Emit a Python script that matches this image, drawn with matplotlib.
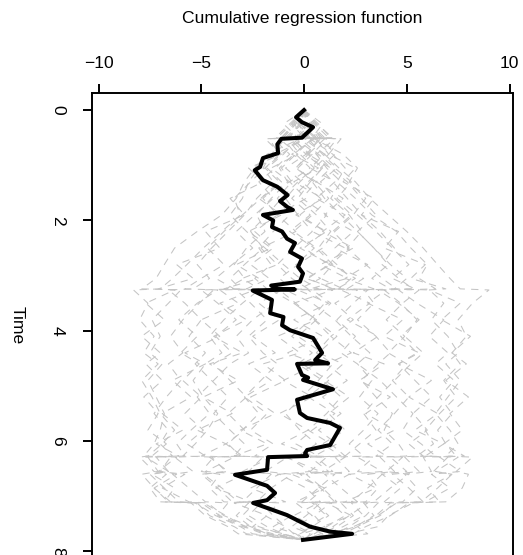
import matplotlib
matplotlib.use("Agg")
import matplotlib.pyplot as plt

plt.rcParams['font.family'] = ['Liberation Sans', 'DejaVu Sans']

# time grid shared by the resampled processes (jump times)
sim_time = [0, 0.25, 0.5, 0.52, 0.8, 1.05, 1.3, 1.6, 1.9, 2.2, 2.5, 2.8, 3.05, 3.24, 3.26,
            3.5, 3.8, 4.1, 4.4, 4.6, 4.9, 5.2, 5.5, 5.8, 6.05, 6.27, 6.29, 6.55, 6.6, 6.85,
            7.1, 7.12, 7.35, 7.55, 7.68, 7.79]

sim1 = [0, 0.5, 1.2, 0.3, 1.4, 2.0, 1.6, 2.5, 3.3, 4.5, 5.2, 6.0, 5.6, 6.4, 4.6, 5.5, 6.8, 6.1,
        7.0, 6.4, 7.3, 6.6, 7.2, 6.5, 6.9, 7.4, 5.8, 6.2, 4.9, 5.5, 4.8, 3.6, 3.0, 2.2, 1.5, 0]
sim2 = [0, -0.6, -1.3, -0.2, -1.8, -2.4, -2.9, -3.3, -4.0, -5.2, -6.3, -6.8, -7.2, -7.9, -6.0,
        -6.6, -7.4, -7.0, -7.5, -6.9, -7.6, -7.2, -6.8, -7.0, -7.3, -7.8, -6.5, -7.0, -6.2,
        -7.3, -6.6, -5.2, -4.6, -3.4, -2.8, 0]
sim3 = [0, 0.3, 0.8, -0.4, 0.6, 1.1, 1.8, 1.3, 2.2, 2.8, 2.1, 3.0, 3.8, 4.5, 2.9, 3.4, 2.6, 3.5,
        4.2, 3.6, 2.8, 3.5, 4.3, 3.9, 4.6, 5.0, 3.7, 4.4, 3.1, 3.6, 3.0, 1.8, 2.4, 1.6, 0.8, 0]
sim4 = [0, -0.2, -0.7, 0.4, -0.5, -1.2, -0.8, -1.6, -2.3, -1.9, -2.8, -3.4, -2.9, -3.8, -2.2,
        -3.0, -3.9, -4.6, -4.0, -4.8, -5.4, -4.9, -4.2, -4.7, -5.3, -5.9, -4.4, -5.0, -4.1,
        -4.6, -3.9, -2.7, -3.3, -2.6, -1.9, 0]
sim5 = [0, 0.6, 1.4, 0.5, 1.9, 2.6, 2.2, 3.0, 2.4, 1.5, 0.9, -0.3, -1.2, -0.6, -2.1, -1.4, -2.5,
        -3.3, -2.7, -3.6, -4.4, -5.2, -4.6, -5.5, -6.2, -5.8, -7.2, -6.6, -7.5, -6.8, -6.1,
        -4.9, -3.8, -2.9, -2.0, 0]
sim6 = [0, -0.5, -1.1, 0.1, -1.4, -2.2, -2.7, -3.0, -3.6, -2.8, -1.9, -1.0, -0.2, 0.7, -0.9,
        0.4, 1.5, 2.3, 3.2, 2.6, 3.7, 4.5, 5.3, 4.8, 5.7, 6.4, 4.9, 5.6, 4.3, 5.1, 5.8, 4.4,
        3.7, 2.6, 1.9, 0]
sim7 = [0, -0.3, 0.2, -0.6, 0.3, -0.4, 0.5, 1.2, 0.4, -0.5, 0.6, 1.4, 0.8, 1.9, 0.2, 1.0, 0.3,
        -0.6, 0.4, -0.3, 0.9, 1.8, 1.1, 0.2, 1.3, 2.0, 0.6, 1.4, 0.1, 0.9, 1.6, 0.5, 1.2, 0.4,
        -0.3, 0]
sim8 = [0, 0.2, 0.9, 1.6, 1.0, 1.7, 2.5, 3.2, 4.1, 5.0, 5.8, 6.5, 7.1, 7.6, 9.0, 8.2, 7.5, 7.9,
        7.2, 7.6, 6.8, 7.4, 6.6, 5.9, 6.3, 5.5, 7.0, 6.3, 7.2, 6.5, 5.7, 4.2, 3.5, 2.6, 3.1, 0]
sim9 = [0, -0.4, -1.0, -1.7, -1.2, -1.9, -2.6, -3.4, -3.1, -4.0, -4.9, -5.7, -6.4, -7.0, -8.3,
        -7.6, -8.0, -7.3, -7.8, -7.1, -7.9, -7.4, -7.0, -6.3, -6.9, -7.6, -8.0, -7.3, -6.7,
        -7.5, -7.0, -5.5, -4.8, -3.7, -3.2, 0]
sim10 = [0, 0.4, 0.1, 0.9, 1.5, 0.8, 1.4, 2.1, 2.8, 3.7, 4.4, 3.8, 4.6, 5.3, 3.9, 4.7, 5.5, 4.9,
         5.8, 5.2, 4.4, 3.6, 2.9, 3.5, 2.7, 2.0, 3.4, 2.6, 3.8, 3.1, 2.3, 3.1, 2.2, 1.4, 2.0, 0]
sim11 = [0, -0.7, -1.4, -0.9, -1.6, -2.0, -1.5, -2.3, -2.9, -3.7, -4.5, -5.2, -4.6, -5.4, -6.6,
         -5.8, -5.0, -5.6, -4.8, -5.3, -4.5, -3.7, -4.4, -3.6, -2.9, -3.4, -2.0, -2.7, -1.6,
         -2.3, -3.0, -2.1, -1.5, -0.9, -1.4, 0]
sim12 = [0, 0.1, -0.4, 0.7, 0.2, 0.9, 0.3, -0.3, 0.6, 1.3, 0.7, 1.6, 2.3, 1.7, 3.1, 2.4, 1.6,
         2.5, 1.8, 2.6, 3.3, 2.7, 3.6, 2.9, 2.2, 2.9, 1.5, 2.2, 1.0, 1.8, 2.6, 1.3, 2.0, 1.1,
         0.5, 0]
sim13 = [0, 0.2, -0.3, -1.0, -0.4, -1.1, -0.6, -1.3, -0.7, -1.5, -2.2, -1.6, -2.4, -1.8, -3.3,
         -2.6, -1.8, -2.7, -2.0, -1.3, -2.1, -2.9, -2.2, -3.0, -3.7, -3.1, -4.5, -3.8, -5.0,
         -4.2, -3.5, -2.4, -3.0, -2.2, -1.1, 0]
sim14 = [0, -0.2, 0.5, 1.1, 0.4, -0.3, 0.4, 1.0, 1.8, 2.6, 3.4, 4.2, 5.0, 4.4, 6.1, 6.8, 6.2,
         7.0, 7.5, 6.9, 7.6, 7.0, 6.4, 7.1, 7.5, 6.9, 8.2, 7.4, 8.0, 7.7, 6.9, 5.1, 4.2, 3.0,
         2.4, 0]
sim15 = [0, 0.4, -0.2, -0.8, -0.2, 0.5, -0.3, -1.1, -1.8, -2.6, -2.0, -2.9, -3.6, -3.1, -4.4,
         -5.1, -5.9, -6.5, -5.9, -6.6, -6.0, -6.7, -7.3, -6.6, -7.0, -6.4, -7.6, -7.1, -7.9,
         -7.3, -6.5, -5.3, -4.3, -3.1, -2.5, 0]
sim16 = [0, 0.7, 1.3, 0.6, 1.2, 0.5, -0.2, -0.9, -0.3, 0.4, -0.5, -1.3, -0.6, 0.2, -1.2, -0.4,
         0.5, 1.3, 0.6, 1.4, 0.7, -0.1, -0.9, -0.2, 0.6, -0.3, 1.1, 0.3, 1.5, 0.7, -0.1, 0.8,
         0.1, -0.6, 0.3, 0]
sim17 = [0, 0.6, 0.1, 1.0, 0.2, 1.3, 0.6, 1.9, 1.0, 2.4, 1.5, 3.1, 2.0, 3.4, 1.8, 3.2, 2.1, 3.6,
         2.4, 3.9, 2.7, 4.2, 3.0, 4.4, 3.1, 4.0, 2.6, 3.8, 2.2, 3.5, 2.0, 1.1, 2.3, 0.9, 1.6, 0]
sim18 = [0, -0.5, 0.1, -1.2, -0.3, -1.6, -0.7, -2.2, -1.1, -2.7, -1.6, -3.3, -2.2, -3.9, -2.4,
         -4.1, -2.8, -4.4, -3.0, -4.6, -3.2, -4.9, -3.5, -5.2, -3.8, -5.0, -3.4, -4.8, -2.9,
         -4.3, -2.6, -3.4, -1.8, -2.5, -1.0, 0]
sim19 = [0, 0.9, 0.4, 1.8, 1.2, 2.5, 1.9, 3.4, 2.8, 4.6, 3.9, 5.9, 5.2, 6.9, 6.1, 7.6, 6.7, 8.1,
         7.2, 7.9, 6.9, 8.0, 7.1, 7.7, 6.8, 7.8, 6.6, 7.6, 6.2, 7.1, 5.9, 5.3, 4.1, 3.6, 2.1, 0]
sim20 = [0, -1.0, -0.3, -1.9, -1.1, -2.7, -2.0, -3.6, -2.9, -4.8, -4.1, -6.2, -5.4, -7.1, -6.3,
         -7.7, -6.8, -7.9, -7.0, -7.7, -6.9, -7.8, -7.1, -7.6, -6.7, -7.4, -6.2, -7.1, -5.8,
         -6.9, -5.6, -4.7, -3.9, -2.6, -1.8, 0]
sim21 = [0, 0.4, -0.4, 0.5, -0.6, 0.7, -0.5, 0.9, -0.4, 1.1, -0.2, 1.3, 0.1, 1.5, -0.3, 1.2,
         -0.5, 0.9, -0.8, 0.6, -1.0, 0.4, -1.2, 0.2, -1.1, 0.5, -0.9, 0.8, -0.6, 1.0, -0.4, 0.7,
         -0.5, 0.5, -0.2, 0]
sim22 = [0, -0.3, 0.3, -0.5, 0.2, -0.4, 0.6, -0.1, 1.1, 0.4, 2.0, 1.2, 2.9, 2.1, 4.0, 3.1, 4.8,
         3.9, 5.6, 4.6, 6.2, 5.1, 6.5, 5.4, 6.8, 5.9, 7.5, 6.4, 7.2, 6.0, 6.6, 4.5, 3.6, 2.4,
         1.2, 0]
sim23 = [0, 0.3, -0.2, 0.4, -0.4, 0.3, -0.7, 0.1, -1.3, -0.4, -2.1, -1.3, -3.0, -2.2, -4.1,
         -3.2, -5.0, -4.1, -5.8, -4.8, -6.4, -5.5, -6.9, -5.9, -7.2, -6.1, -7.7, -6.6, -7.4,
         -6.3, -6.8, -5.0, -4.1, -2.8, -1.5, 0]
sim24 = [0, -0.2, 0.6, 0.0, 1.0, 0.3, 1.5, 0.6, 2.0, 0.9, 2.4, 0.8, 2.1, 0.3, 1.4, -0.5, 0.6,
         -1.3, -0.2, -2.0, -0.9, -2.6, -1.4, -3.1, -1.8, -3.4, -1.6, -3.0, -1.2, -2.6, -0.9,
         -2.2, -0.6, -1.5, -0.4, 0]
sim25 = [0, 0.3, 1.0, 0.2, 0.9, 1.6, 0.8, 1.5, 2.3, 1.4, 2.2, 1.3, 2.5, 1.6, 0.4, 1.3, 0.5, 1.6,
         0.7, 1.9, 1.0, 2.2, 1.2, 2.0, 0.9, 1.8, 0.3, 1.2, -0.2, 0.8, 1.5, 0.4, 1.1, 0.2, 0.9, 0]
sim26 = [0, -0.4, -1.1, -0.3, -1.0, -1.8, -1.1, -2.0, -1.3, -2.4, -1.5, -2.6, -1.7, -2.8, -1.1,
         -2.2, -1.2, -2.5, -1.4, -2.7, -1.6, -2.9, -1.8, -2.6, -1.5, -2.4, -0.8, -1.9, -0.6,
         -1.6, -2.3, -1.2, -1.9, -0.9, -0.5, 0]
sim27 = [0, 0.2, 0.7, 1.5, 0.6, 1.3, 2.1, 2.8, 3.5, 2.6, 3.4, 4.1, 3.3, 4.2, 5.6, 4.8, 4.0, 4.9,
         4.1, 5.0, 4.3, 5.1, 4.4, 3.6, 4.3, 3.5, 4.8, 4.0, 5.1, 4.2, 3.4, 2.3, 2.9, 1.9, 1.1, 0]
sim28 = [0, -0.1, -0.8, -1.5, -0.7, -1.4, -2.2, -1.5, -2.4, -3.3, -2.5, -3.5, -4.3, -3.4, -5.0,
         -4.2, -3.3, -4.3, -3.5, -4.4, -3.6, -2.8, -3.7, -2.9, -3.8, -3.0, -4.6, -3.7, -4.9,
         -4.0, -3.2, -2.1, -2.7, -1.8, -1.0, 0]
sim29 = [0, -0.6, 0.0, 0.8, 0.1, 0.9, 0.2, -0.6, 0.3, -0.7, 0.5, -0.4, 0.8, -0.2, -1.6, -0.5,
         0.6, -0.3, 0.9, -0.1, 1.2, 0.2, 1.5, 0.4, -0.4, 0.7, -0.8, 0.3, -1.2, 0.1, 0.8, -0.4,
         0.4, -0.3, 0.4, 0]
sim30 = [0, 0.5, 0.0, -0.7, 0.1, -0.9, -0.1, 0.8, -0.2, 1.0, 0.0, 1.2, 0.2, 1.4, 2.6, 1.5, 2.4,
         1.3, 2.3, 1.1, 2.1, 0.9, 1.8, 0.7, 1.6, 0.5, 2.0, 0.9, 2.2, 1.0, 0.2, 1.3, 0.5, 1.0,
         -0.1, 0]
sim31 = [0, 0.1, 0.6, -0.2, 0.7, 1.5, 2.3, 1.6, 2.6, 3.5, 4.3, 5.1, 4.3, 5.4, 3.6, 4.6, 5.6, 4.7,
         5.5, 4.6, 5.4, 6.2, 5.3, 6.0, 5.1, 5.8, 4.2, 5.0, 3.8, 4.7, 3.9, 2.9, 3.4, 2.5, 1.4, 0]
sim32 = [0, -0.2, -0.9, -0.1, -1.1, -1.9, -1.2, -2.1, -3.0, -3.9, -4.7, -3.9, -5.0, -5.8, -4.2,
         -5.2, -6.1, -5.2, -6.0, -5.1, -5.9, -5.0, -5.8, -4.9, -5.7, -4.8, -6.3, -5.4, -6.4,
         -5.6, -4.8, -3.7, -4.2, -3.0, -1.7, 0]
sims = [sim1, sim2, sim3, sim4, sim5, sim6, sim7, sim8, sim9, sim10, sim11, sim12,
        sim13, sim14, sim15, sim16, sim17, sim18, sim19, sim20, sim21, sim22, sim23, sim24,
        sim25, sim26, sim27, sim28, sim29, sim30, sim31, sim32]

# observed cumulative process
obs_time = [0, 0.13, 0.22, 0.31, 0.5, 0.52, 0.62, 0.78, 0.87, 1.03, 1.09, 1.27, 1.39, 1.54,
            1.65, 1.76, 1.81, 1.9, 2.0, 2.12, 2.2, 2.33, 2.41, 2.57, 2.69, 2.84, 2.96, 3.11,
            3.18, 3.24, 3.25, 3.27, 3.36, 3.44, 3.68, 3.75, 3.9, 3.99, 4.13, 4.4, 4.53, 4.59,
            4.6, 4.8, 4.85, 4.89, 5.06, 5.25, 5.49, 5.58, 5.67, 5.76, 5.98, 6.07, 6.16, 6.22,
            6.27, 6.29, 6.52, 6.61, 6.81, 6.94, 7.07, 7.12, 7.34, 7.55, 7.64, 7.68, 7.79]
obs_value = [0, -0.39, -0.1, 0.44, -0.1, -1.1, -1.3, -1.26, -2.0, -2.14, -2.4, -2.0, -1.3, -0.8,
             -1.17, -0.8, -0.54, -2.0, -1.5, -1.56, -1.07, -0.83, -0.44, -0.68, -0.1, -0.29,
             -0.05, -0.2, -1.6, -1.3, -0.45, -2.5, -2.0, -1.56, -1.65, -1.0, -1.07, -0.68, 0.44,
             0.88, 0.54, 1.17, -0.34, -0.1, 0.2, -0.05, 1.41, -0.34, -0.2, 0.15, 1.27, 1.75,
             1.41, 1.27, 0.15, 0.05, 0.15, -1.75, -1.8, -3.36, -1.8, -1.41, -1.8, -2.48, -0.83,
             0.29, 1.27, 2.34, -0.05]

fig = plt.figure(figsize=(5.23, 5.55), dpi=100)
ax = fig.add_axes([92 / 523, 1 - 557 / 555, 421 / 523, 464 / 555])

for s in sims:
    ax.plot(s, sim_time, color='#C4C4C4', lw=0.75, dashes=(7, 6))
ax.plot(obs_value, obs_time, color='black', lw=2.9, solid_joinstyle='round')

ax.set_xlim(-10.32, 10.17)
ax.set_ylim(8.1, -0.31)

ax.xaxis.tick_top()
ax.xaxis.set_label_position('top')
ax.set_xticks([-10, -5, 0, 5, 10])
ax.set_yticks([0, 2, 4, 6, 8])
ax.tick_params(axis='both', length=6.5, width=1.4, labelsize=12.6)
ax.tick_params(axis='x', pad=9)
ax.tick_params(axis='y', pad=13, labelrotation=-90)
for lab in ax.get_yticklabels():
    lab.set_va('center')

ax.set_xlabel('Cumulative regression function', fontsize=12.6, labelpad=24)
ax.set_ylabel('Time', fontsize=12.6, rotation=-90, labelpad=29)

for sp in ax.spines.values():
    sp.set_linewidth(1.4)

fig.savefig('out.png', dpi=100)
